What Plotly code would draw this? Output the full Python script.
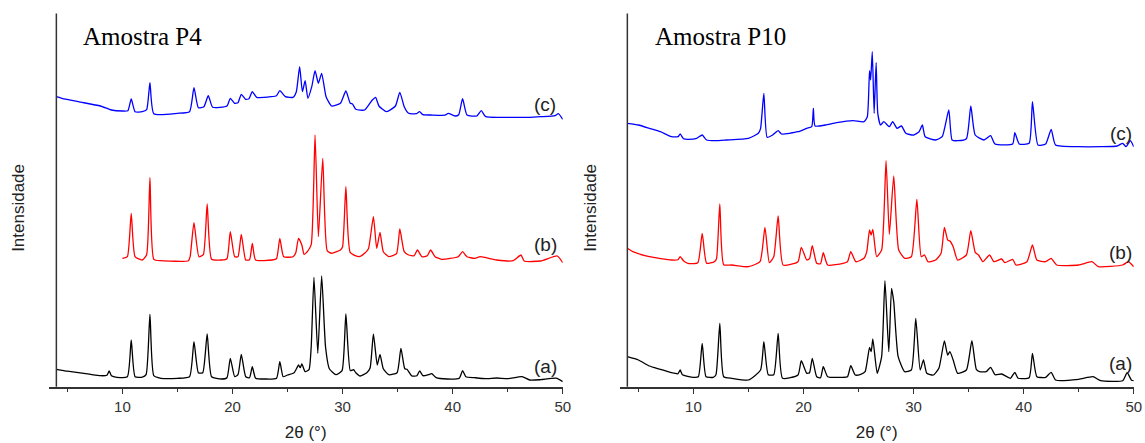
import plotly.graph_objects as go

# ---------------- data: (2theta, intensity a.u.) ----------------
p4_a = [(4.0, 17.4), (5.0, 15.5), (6.0, 14.0), (7.0, 12.5), (8.0, 11.0), (8.6, 11.5), (8.8, 15.7), (9.0, 11.0),
        (9.5, 9.4), (10.45, 10.0), (10.8, 46.7), (11.15, 10.0), (11.8, 9.5), (12.15, 12.0), (12.5, 72.4),
        (12.85, 11.0), (13.5, 8.4), (15.0, 8.4), (16.1, 10.0), (16.5, 45.0), (16.9, 14.0), (17.3, 14.0),
        (17.7, 52.7), (18.1, 10.0), (19.0, 7.7), (19.5, 9.0), (19.8, 28.4), (20.2, 10.0), (20.5, 12.0),
        (20.8, 32.4), (21.2, 10.0), (21.55, 9.0), (21.8, 20.0), (22.1, 8.5), (23.0, 7.7), (24.0, 8.5),
        (24.3, 25.0), (24.6, 10.0), (25.0, 11.7), (25.6, 14.0), (26.0, 21.7), (26.15, 19.0), (26.3, 22.7),
        (26.6, 15.0), (26.95, 17.0), (27.15, 40.0), (27.4, 109.4), (27.75, 33.4), (28.1, 110.7), (28.45, 40.0),
        (28.8, 18.0), (29.4, 12.0), (29.95, 16.0), (30.3, 72.7), (30.7, 16.0), (31.0, 17.0), (31.2, 14.0),
        (31.6, 10.7), (32.2, 14.0), (32.5, 18.7), (32.8, 52.7), (33.15, 21.7), (33.4, 32.4), (33.7, 18.0),
        (34.2, 12.0), (34.95, 14.0), (35.3, 38.4), (35.65, 18.0), (35.85, 17.4), (36.3, 10.7), (36.75, 11.0),
        (37.0, 15.7), (37.3, 11.0), (37.8, 12.0), (38.1, 13.0), (38.5, 9.0), (39.5, 7.7), (40.6, 8.5),
        (40.9, 16.0), (41.2, 10.0), (42.0, 9.0), (43.0, 8.0), (44.0, 8.7), (45.0, 8.0), (46.3, 10.0),
        (47.0, 6.7), (48.0, 7.0), (49.4, 8.5), (50.0, 5.0)]

p4_b = [(10.0, 128.4), (10.45, 130.0), (10.8, 173.4), (11.15, 130.0), (11.8, 126.7), (12.2, 132.0), (12.5, 209.0),
        (12.85, 127.4), (13.5, 126.0), (16.0, 126.0), (16.15, 130.0), (16.5, 164.0), (16.95, 130.0),
        (17.35, 132.0), (17.7, 182.7), (18.1, 127.4), (19.0, 126.7), (19.5, 128.0), (19.8, 155.0),
        (20.2, 130.0), (20.5, 130.0), (20.8, 152.4), (21.2, 126.7), (21.55, 127.0), (21.8, 143.4),
        (22.1, 126.7), (23.6, 126.7), (24.0, 128.0), (24.3, 148.4), (24.65, 130.0), (25.5, 130.0),
        (25.75, 134.0), (26.0, 148.4), (26.3, 141.7), (26.5, 132.4), (26.8, 135.0), (27.15, 142.0),
        (27.5, 251.7), (27.8, 150.0), (28.2, 228.4), (28.6, 136.0), (29.0, 133.4), (29.8, 136.7),
        (30.0, 140.0), (30.3, 200.0), (30.7, 134.0), (31.5, 130.0), (32.0, 133.4), (32.35, 138.0),
        (32.8, 170.0), (33.1, 138.4), (33.4, 154.4), (33.7, 135.0), (34.2, 130.0), (34.9, 133.0),
        (35.2, 157.7), (35.6, 135.0), (36.0, 131.7), (36.5, 131.0), (36.8, 136.7), (37.2, 130.0),
        (37.7, 131.0), (38.0, 136.7), (38.4, 130.0), (39.0, 127.4), (40.5, 130.0), (40.9, 135.0),
        (41.3, 130.0), (42.0, 128.4), (42.5, 130.0), (44.0, 126.7), (45.5, 126.0), (46.2, 131.7),
        (46.5, 125.7), (48.0, 125.7), (49.5, 130.7), (50.0, 124.0)]

p4_c = [(4.0, 290.0), (4.5, 288.4), (6.0, 285.0), (8.0, 280.7), (9.0, 276.7), (10.0, 275.7), (10.5, 276.0),
        (10.8, 287.7), (11.15, 275.0), (11.8, 275.0), (12.2, 277.0), (12.5, 304.0), (12.85, 273.0),
        (15.0, 273.4), (16.1, 275.0), (16.5, 299.0), (16.9, 279.0), (17.4, 280.0), (17.8, 291.0),
        (18.2, 279.4), (19.5, 280.7), (19.8, 288.4), (20.2, 283.4), (20.5, 284.0), (20.8, 292.4),
        (21.2, 287.4), (21.5, 288.0), (21.8, 295.0), (22.2, 289.4), (23.5, 290.0), (24.0, 291.0),
        (24.3, 296.0), (24.8, 290.0), (25.5, 289.4), (25.8, 295.0), (26.1, 320.0), (26.35, 295.0),
        (26.6, 306.0), (26.85, 288.4), (27.2, 300.0), (27.5, 316.0), (27.8, 303.4), (28.1, 313.4),
        (28.5, 290.0), (29.0, 280.7), (29.8, 283.4), (30.3, 295.7), (30.7, 283.4), (30.9, 282.7),
        (31.2, 277.4), (32.0, 276.7), (32.7, 286.7), (33.0, 289.4), (33.3, 280.7), (34.0, 275.0),
        (34.8, 280.7), (35.2, 294.4), (35.6, 280.0), (36.0, 273.4), (36.7, 273.0), (37.0, 275.0),
        (37.3, 272.0), (38.0, 271.7), (39.3, 271.5), (39.6, 273.4), (40.2, 270.7), (40.55, 272.0),
        (40.9, 288.0), (41.3, 271.7), (42.2, 270.7), (42.6, 276.0), (43.0, 270.0), (45.0, 269.4),
        (47.0, 269.4), (48.0, 270.0), (49.3, 271.0), (49.6, 273.0), (50.0, 267.4)]

p10_a = [(4.0, 30.0), (5.0, 26.7), (6.0, 20.7), (7.0, 17.4), (8.0, 14.0), (8.6, 13.0), (8.8, 16.7), (9.0, 12.0),
         (10.0, 9.4), (10.45, 10.0), (10.8, 43.4), (11.15, 10.0), (11.8, 9.4), (12.05, 12.0), (12.4, 63.4),
         (12.75, 10.0), (13.5, 8.4), (15.0, 6.7), (16.1, 16.7), (16.4, 45.0), (16.8, 12.0), (17.3, 12.0),
         (17.7, 53.4), (18.1, 8.4), (19.5, 11.7), (19.8, 26.0), (20.3, 13.4), (20.55, 14.0), (20.8, 28.4),
         (21.2, 10.0), (21.55, 9.0), (21.8, 20.0), (22.2, 10.0), (23.5, 9.4), (24.0, 10.0), (24.3, 21.0),
         (24.7, 11.7), (25.2, 12.4), (25.6, 15.0), (26.0, 39.4), (26.15, 35.0), (26.3, 47.7), (26.7, 13.4),
         (27.1, 30.0), (27.4, 106.0), (27.75, 35.0), (28.0, 98.4), (28.2, 85.0), (28.6, 30.0), (29.2, 15.0),
         (29.8, 16.7), (30.2, 68.4), (30.6, 16.7), (30.9, 26.7), (31.2, 13.4), (31.8, 11.7), (32.3, 18.4),
         (32.8, 45.7), (33.1, 31.7), (33.3, 35.0), (33.6, 26.7), (34.0, 13.4), (34.8, 16.7), (35.3, 46.0),
         (35.7, 17.4), (36.0, 15.0), (36.6, 15.0), (37.0, 19.4), (37.4, 12.0), (38.0, 12.7), (38.8, 8.4),
         (39.2, 14.4), (39.5, 8.4), (40.5, 9.0), (40.8, 33.4), (41.2, 10.0), (42.0, 9.4), (42.5, 14.4),
         (42.9, 6.7), (45.0, 7.4), (46.3, 10.0), (47.0, 6.0), (49.0, 6.0), (49.4, 14.0), (49.8, 6.5),
         (50.0, 6.0)]

p10_b = [(4.0, 138.4), (4.5, 135.0), (6.0, 130.0), (8.0, 126.7), (8.6, 127.0), (8.8, 130.0), (9.1, 126.0),
         (9.5, 123.4), (10.4, 124.0), (10.8, 153.4), (11.2, 123.4), (11.9, 125.0), (12.1, 128.0), (12.4, 182.7),
         (12.75, 122.0), (13.5, 121.7), (15.0, 120.0), (16.05, 125.0), (16.5, 159.4), (16.9, 124.0),
         (17.3, 130.0), (17.7, 170.7), (18.15, 121.7), (19.5, 125.0), (19.8, 139.4), (20.3, 126.7),
         (20.55, 128.0), (20.8, 141.0), (21.2, 123.4), (21.55, 123.0), (21.8, 134.0), (22.2, 121.7),
         (23.6, 123.4), (24.0, 125.0), (24.3, 135.0), (24.75, 125.0), (25.5, 128.4), (25.75, 135.0),
         (26.0, 156.7), (26.15, 151.7), (26.3, 157.4), (26.65, 130.0), (27.1, 136.7), (27.5, 226.0),
         (27.8, 152.4), (28.2, 210.7), (28.65, 136.7), (29.2, 128.4), (29.8, 130.0), (30.3, 187.4),
         (30.7, 130.0), (31.0, 131.7), (31.3, 125.0), (32.0, 126.7), (32.5, 133.4), (32.8, 159.4),
         (33.1, 146.7), (33.3, 145.7), (33.6, 140.0), (34.0, 126.7), (34.8, 131.7), (35.2, 156.0),
         (35.6, 134.4), (35.9, 131.7), (36.3, 125.0), (36.9, 131.7), (37.3, 125.0), (38.0, 127.7),
         (38.3, 124.0), (39.0, 127.4), (39.3, 121.7), (40.3, 125.0), (40.8, 141.7), (41.2, 126.7),
         (42.0, 125.0), (42.5, 128.4), (43.0, 121.7), (45.0, 121.7), (46.2, 125.0), (46.8, 120.0),
         (49.0, 121.7), (49.5, 125.0), (50.0, 120.0)]

p10_c = [(4.0, 263.4), (5.0, 261.7), (6.0, 258.4), (7.0, 255.0), (8.0, 250.0), (8.6, 250.0), (8.8, 252.7),
         (9.1, 248.0), (9.5, 247.4), (10.3, 248.4), (10.8, 251.7), (11.2, 246.7), (12.0, 246.0), (13.0, 246.7),
         (15.0, 248.4), (15.9, 253.4), (16.1, 258.0), (16.4, 293.4), (16.7, 249.4), (17.2, 251.7),
         (17.7, 256.0), (18.0, 252.7), (19.5, 255.0), (20.3, 258.4), (20.75, 260.0), (20.9, 278.4),
         (21.05, 260.7), (22.0, 261.7), (23.0, 264.0), (24.5, 266.0), (25.5, 265.0), (25.8, 270.0),
         (26.0, 316.0), (26.1, 306.7), (26.25, 335.0), (26.42, 273.4), (26.6, 324.0), (26.75, 273.4),
         (27.0, 261.7), (27.3, 265.0), (27.8, 260.0), (28.1, 265.0), (28.5, 258.4), (28.9, 260.7),
         (29.3, 253.4), (30.0, 251.7), (30.5, 255.0), (30.8, 261.7), (31.05, 250.0), (32.0, 246.7),
         (32.6, 250.0), (33.2, 276.7), (33.5, 246.7), (34.0, 246.0), (34.8, 248.0), (35.2, 280.7),
         (35.6, 251.7), (36.4, 246.7), (37.0, 251.0), (37.4, 242.7), (39.0, 242.7), (39.2, 254.0),
         (39.6, 242.7), (40.5, 243.5), (40.8, 285.0), (41.3, 241.7), (42.0, 242.7), (42.5, 257.4),
         (42.9, 241.7), (45.0, 240.0), (47.0, 240.0), (48.5, 240.7), (49.0, 243.4), (49.3, 240.0),
         (49.7, 246.0), (50.0, 240.0)]

x_ticks = [10, 20, 30, 40, 50]
x_tick_text = ["10", "20", "30", "40", "50"]
panel_titles = ["Amostra P4", "Amostra P10"]
curve_labels = ["(a)", "(b)", "(c)"]
colors = ["#000000", "#ff0000", "#0000ff"]

# ---------------- figure ----------------
W, H = 1145, 443
fig = go.Figure()

panels = [("x", "y", [p4_a, p4_b, p4_c]), ("x2", "y2", [p10_a, p10_b, p10_c])]
for xa, ya, series in panels:
    for s, col in zip(series, colors):
        fig.add_trace(go.Scatter(
            x=[p[0] for p in s], y=[p[1] for p in s], mode="lines",
            line=dict(color=col, width=1.3, shape="spline", smoothing=0.5),
            xaxis=xa, yaxis=ya, showlegend=False, hoverinfo="skip"))

def px(xp):
    return xp / W

def py(yp):
    return 1 - yp / H

y_dom = [py(386.7), py(13.5)]
xaxis_common = dict(
    range=[3.3, 50], tickmode="array", tickvals=x_ticks, ticktext=x_tick_text,
    ticks="outside", ticklen=6, tickwidth=1.3, tickcolor="#333333",
    showline=True, linecolor="#333333", linewidth=1.5, showgrid=False, zeroline=False,
    tickfont=dict(family="Liberation Sans, Arial", size=15, color="#333333"),
    minor=dict(ticks="outside", ticklen=4, tickwidth=1.3, tickcolor="#333333", dtick=5, tick0=0, showgrid=False),
    title=dict(text="2θ (°)", font=dict(family="Liberation Sans, Arial", size=17, color="#222222"), standoff=12),
)
yaxis_common = dict(range=[0, 373.2], visible=False, domain=y_dom)

fig.update_layout(
    width=W, height=H, margin=dict(l=0, r=0, t=0, b=0),
    paper_bgcolor="white", plot_bgcolor="white",
    xaxis=dict(domain=[px(49), px(566.7)], anchor="y", **xaxis_common),
    yaxis=dict(anchor="x", **yaxis_common),
    xaxis2=dict(domain=[px(624), px(1141.7)], anchor="y2", **xaxis_common),
    yaxis2=dict(anchor="x2", **yaxis_common),
)

# vertical axis lines at 2theta = 4
for xr, yr in [("x", "y domain"), ("x2", "y2 domain")]:
    fig.add_shape(type="line", xref=xr, yref=yr, x0=4, x1=4, y0=0, y1=1,
                  line=dict(color="#333333", width=1.5))

ann = []
for text, xp_ in zip(panel_titles, [82, 658]):
    ann.append(dict(text=text, x=px(xp_), y=py(37), xref="paper", yref="paper",
                    xanchor="left", yanchor="middle", showarrow=False,
                    font=dict(family="Liberation Serif, Times New Roman", size=25, color="#000000")))
for xp_ in [18, 594]:
    ann.append(dict(text="Intensidade", x=px(xp_), y=py(208), xref="paper", yref="paper",
                    xanchor="center", yanchor="middle", textangle=-90, showarrow=False,
                    font=dict(family="Liberation Sans, Arial", size=17, color="#222222")))
label_pos = [
    [(549, 366), (549, 244), (549, 104)],
    [(1128, 363), (1128, 252), (1129, 133)],
]
for pos_list in label_pos:
    for lab, (xp_, yp_) in zip(curve_labels, pos_list):
        ann.append(dict(text=lab, x=px(xp_), y=py(yp_), xref="paper", yref="paper",
                        xanchor="center", yanchor="middle", showarrow=False,
                        font=dict(family="Liberation Sans, Arial", size=19, color="#222222")))
fig.update_layout(annotations=ann)

fig.write_html("out.html")
